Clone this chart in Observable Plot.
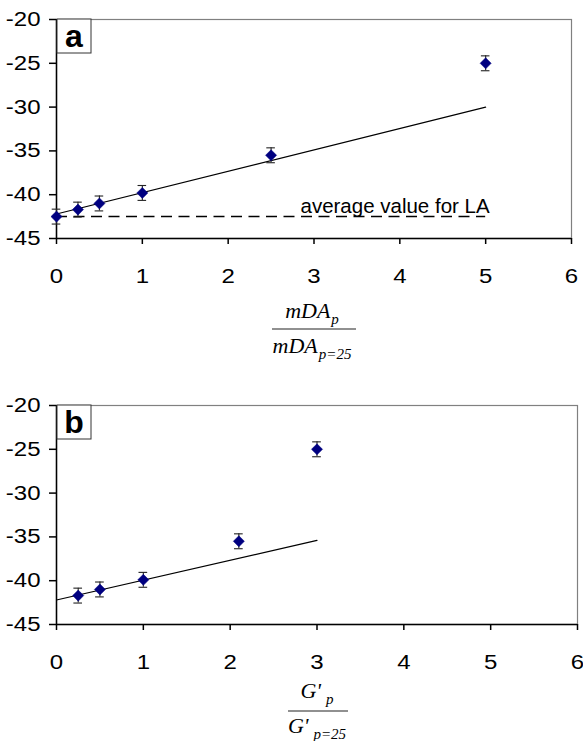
<!DOCTYPE html>
<html><head><meta charset="utf-8">
<script src="https://cdn.jsdelivr.net/npm/d3@7"></script>
<script src="https://cdn.jsdelivr.net/npm/@observablehq/plot@0.6"></script>
<style>
body{margin:0;background:#fff;}
#root{width:583px;}
svg{display:block;}
</style></head><body><div id="root"></div>
<script>
// ---- data ----
const xTicks = [0, 1, 2, 3, 4, 5, 6];
const yTicks = [-45, -40, -35, -30, -25, -20];

// panel a
const xA = [0, 0.25, 0.5, 1, 2.5, 5];
const yA = [-42.5, -41.7, -41.0, -39.8, -35.5, -25.0];
const errA = [0.85, 0.85, 0.85, 0.85, 0.85, 0.85];
const fitAx = [0, 5];
const fitAy = [-42.2, -30.0];
const avgLA = -42.5;
const avgSpan = [0, 5];
const avgLabel = "average value for LA";

// panel b
const xB = [0.25, 0.5, 1, 2.1, 3];
const yB = [-41.7, -41.0, -39.9, -35.5, -25.0];
const errB = [0.85, 0.85, 0.85, 0.85, 0.85];
const fitBx = [0, 3];
const fitBy = [-42.2, -35.4];

const panelLabels = ["a", "b"];

// ---- drawing ----
const NAVY = "#000080";
const SANS = "'Liberation Sans', Arial, sans-serif";
const SERIF = "'Liberation Serif', 'Times New Roman', serif";

function labelBox(letter) {
  return (index, scales, values, dims) => {
    const g = d3.create("svg:g");
    const x0 = dims.marginLeft + 1, y0 = dims.marginTop;
    g.append("rect").attr("x", x0).attr("y", y0).attr("width", 34).attr("height", 34)
      .attr("fill", "#fff").attr("stroke", "#333").attr("stroke-width", 1);
    g.append("text").attr("x", x0 + 17).attr("y", y0 + 28).attr("text-anchor", "middle")
      .attr("font-family", SANS).attr("font-weight", "bold").attr("font-size", 32).text(letter);
    return g.node();
  };
}

function panel({xs, ys, errs, fitX, fitY, letter, marginRight, extra}) {
  const pts = xs.map((x, i) => ({x, y: ys[i], lo: ys[i] - errs[i], hi: ys[i] + errs[i]}));
  const fit = fitX.map((x, i) => ({x, y: fitY[i]}));
  const cap = 0.05;
  return Plot.plot({
    width: 583, height: 290,
    marginTop: 19, marginBottom: 52, marginLeft: 56, marginRight,
    x: {domain: [0, 6]},
    y: {domain: [-45, -20]},
    style: {fontFamily: SANS, fontSize: "20px", color: "#000", background: "#fff", overflow: "visible"},
    marks: [
      Plot.frame({stroke: "#808080", strokeWidth: 1.2}),
      Plot.ruleX([0], {stroke: "#000", strokeWidth: 1.5}),
      Plot.ruleY([-45], {stroke: "#000", strokeWidth: 1.5}),
      Plot.axisX({ticks: xTicks, tickSize: 6, tickPadding: 24, tickFormat: d => String(d), label: null, strokeWidth: 1.5}),
      Plot.axisY({ticks: yTicks, tickSize: 7, tickPadding: 9, tickFormat: d => String(d), label: null, strokeWidth: 1.5}),
      ...extra,
      Plot.line(fit, {x: "x", y: "y", stroke: "#000", strokeWidth: 1.2}),
      Plot.ruleX(pts, {x: "x", y1: "lo", y2: "hi", stroke: "#222", strokeWidth: 1.1}),
      Plot.ruleY(pts, {y: "lo", x1: d => d.x - cap, x2: d => d.x + cap, stroke: "#222", strokeWidth: 1.1}),
      Plot.ruleY(pts, {y: "hi", x1: d => d.x - cap, x2: d => d.x + cap, stroke: "#222", strokeWidth: 1.1}),
      Plot.dot(pts, {x: "x", y: "y", symbol: "diamond2", r: 5, fill: NAVY, stroke: NAVY, strokeWidth: 0.5}),
      labelBox(letter)
    ]
  });
}

function stretchTicks(svg, factor) {
  d3.select(svg).selectAll('g[aria-label$="tick label"] text').each(function () {
    const L = this.getComputedTextLength();
    this.setAttribute("textLength", (L * factor).toFixed(2));
    this.setAttribute("lengthAdjust", "spacingAndGlyphs");
  });
}

function fraction(h, {num, numSub, den, denSub, cx, lineX1, lineX2, yNum, yLine, yDen, subGap}) {
  const svg = d3.create("svg").attr("width", 583).attr("height", h)
    .style("background", "#fff");
  const mk = (y, main, sub) => {
    const t = svg.append("text").attr("x", cx).attr("y", y).attr("text-anchor", "middle")
      .attr("font-family", SERIF).attr("font-style", "italic").attr("font-size", 22).attr("fill", "#000");
    t.append("tspan").text(main);
    t.append("tspan").attr("dx", subGap).attr("dy", 6).attr("font-size", 15).text(sub);
  };
  mk(yNum, num, numSub);
  svg.append("line").attr("x1", lineX1).attr("x2", lineX2).attr("y1", yLine).attr("y2", yLine)
    .attr("stroke", "#222").attr("stroke-width", 1.2);
  mk(yDen, den, denSub);
  return svg.node();
}

const root = document.getElementById("root");

const extraA = [
  Plot.ruleY([avgLA], {x1: avgSpan[0], x2: avgSpan[1], stroke: "#000", strokeWidth: 1.5, strokeDasharray: "11,6.5"}),
  Plot.text([avgLabel], {x: avgSpan[1], y: avgLA, textAnchor: "end", lineAnchor: "bottom", dx: 4, dy: -4, fontSize: 20.5, fill: "#000"})
];

const svgA = panel({xs: xA, ys: yA, errs: errA, fitX: fitAx, fitY: fitAy, letter: panelLabels[0], marginRight: 12, extra: extraA});
root.appendChild(svgA);
root.appendChild(fraction(96, {num: "mDA", numSub: "p", den: "mDA", denSub: "p=25", cx: 312,
  lineX1: 272, lineX2: 356, yNum: 28, yLine: 39, yDen: 63, subGap: 1}));
const svgB = panel({xs: xB, ys: yB, errs: errB, fitX: fitBx, fitY: fitBy, letter: panelLabels[1], marginRight: 6, extra: []});
root.appendChild(svgB);
root.appendChild(fraction(65, {num: "G'", numSub: "p", den: "G'", denSub: "p=25", cx: 317,
  lineX1: 288, lineX2: 348, yNum: 22, yLine: 35, yDen: 57, subGap: 5}));
stretchTicks(svgA, 1.2);
stretchTicks(svgB, 1.2);
</script>
</body></html>
